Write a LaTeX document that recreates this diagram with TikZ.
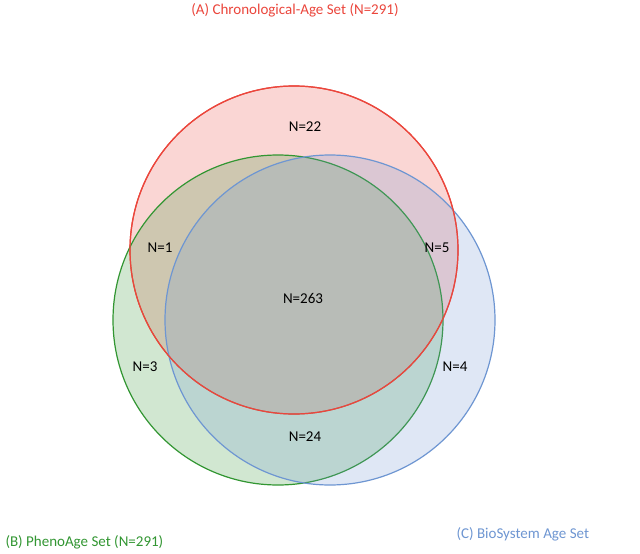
\documentclass[tikz,border=0pt]{standalone}
\usepackage{fontspec}
\setmainfont{Carlito}
\begin{document}
\begin{tikzpicture}[x=1pt,y=-1pt,
  lab/.style={font=\fontsize{15}{17}\selectfont},
  venn/.style={line width=1.2pt, fill opacity=0.22}]
\useasboundingbox (0,0) rectangle (640,554);
\fill[white] (0,0) rectangle (640,554);
\definecolor{cr}{RGB}{235,70,60}
\definecolor{cg}{RGB}{50,150,50}
\definecolor{cb}{RGB}{110,150,210}
\draw[venn, draw=cr, fill=cr] (294,250) circle (164);
\draw[venn, draw=cg, fill=cg] (278,320) circle (165);
\draw[venn, draw=cb, fill=cb] (330,320) circle (165);
\draw[line width=1.2pt, draw=cr] (294,250) circle (164);
\node[lab, text=cr] (ta) at (295,10) {(A) Chronological-Age Set (N=291)};
\node[lab, text=cg, anchor=west] (tb) at (2,542) {(B) PhenoAge Set (N=291)};
\node[lab, text=cb, anchor=west] (tc) at (453,534) {(C) BioSystem Age Set};
\node[lab] (n22) at (305,127) {N=22};
\node[lab] (n1) at (160,248) {N=1};
\node[lab] (n5) at (437,248) {N=5};
\node[lab] (n263) at (303,298) {N=263};
\node[lab] (n3) at (145,367) {N=3};
\node[lab] (n4) at (455,367) {N=4};
\node[lab] (n24) at (305,437) {N=24};
\end{tikzpicture}
\end{document}
